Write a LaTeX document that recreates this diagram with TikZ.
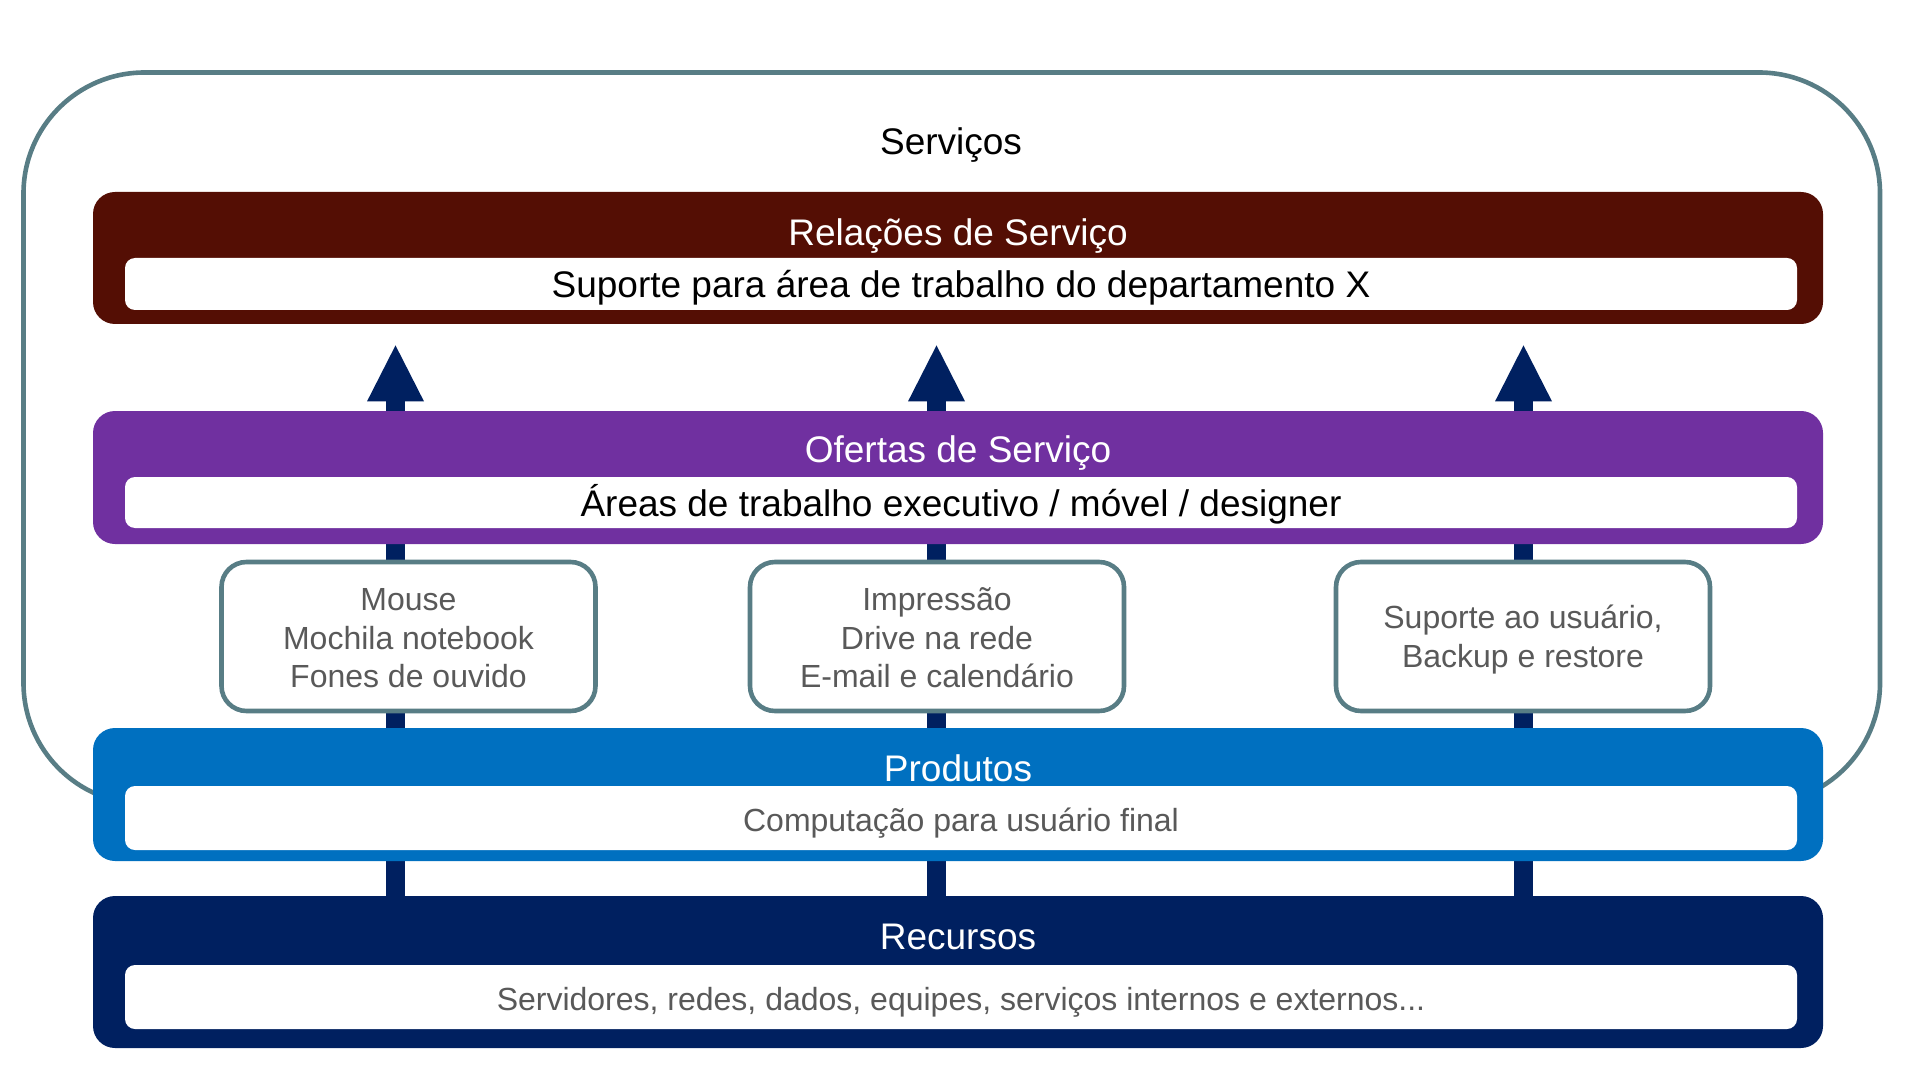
\documentclass[tikz,border=0pt]{standalone}
\usepackage{fontspec}
\setmainfont{Liberation Sans}
\usetikzlibrary{arrows.meta,backgrounds}
\definecolor{relcor}{RGB}{84,14,4}
\definecolor{ofecor}{RGB}{112,48,160}
\definecolor{procor}{RGB}{0,112,192}
\definecolor{reccor}{RGB}{0,32,96}
\definecolor{bordacor}{RGB}{88,125,133}
\definecolor{cinza}{RGB}{89,89,89}
\newcommand\fgrande{\fontsize{18.5}{22}\selectfont}
\newcommand\fpequena{\fontsize{16}{19.25}\selectfont}
\newcommand\alto[1]{\rule{0pt}{#1}}
\begin{document}
\begin{tikzpicture}[x=0.5pt,y=-0.5pt,
		faixa/.style={rounded corners=11pt,minimum width=865pt,inner sep=0pt},
		branco/.style={fill=white,rounded corners=5pt,minimum width=836pt,inner sep=0pt,text height=16.5pt,text depth=3pt},
		titulo/.style={anchor=base,text=white,font=\fgrande},
		item/.style={draw=bordacor,line width=2.3pt,fill=white,rounded corners=12.5pt,minimum width=187pt,minimum height=74.5pt,inner sep=0pt,align=center,text=cinza,font=\fpequena},
		seta/.style={draw=reccor,line width=9.5pt,-{Triangle[width=28.5pt,length=28pt,line width=0pt]},shorten >=10.5pt}]
	\useasboundingbox (0,0) rectangle (1920,1080);
	% moldura dos servicos
	\node[draw=bordacor,line width=2.3pt,rounded corners=60.5pt,minimum width=928.25pt,minimum height=365.75pt] (servicos) at (951.75,438.25) {};
	\node[anchor=base,font=\fgrande] (servicos-t) at (951,155) {Serviços};
	% faixas
	\node[faixa,fill=relcor,minimum height=66pt] (relacoes) at (958,258) {};
	\node[faixa,fill=ofecor,minimum height=66.5pt] (ofertas) at (958,477.5) {};
	\node[faixa,fill=procor,minimum height=66.5pt] (produtos) at (958,794.5) {};
	\node[faixa,fill=reccor,minimum height=76pt] (recursos) at (958,972) {};
	\node[titulo] (relacoes-t) at (958,246) {Relações de Serviço};
	\node[titulo] (ofertas-t) at (958,462) {Ofertas de Serviço};
	\node[titulo] (produtos-t) at (958,781) {Produtos};
	\node[titulo] (recursos-t) at (958,949) {Recursos};
	\node[branco,minimum height=26pt,font=\fgrande] (relacoes-i) at (961,284) {Suporte para área de trabalho do departamento X};
	\node[branco,minimum height=25.5pt,font=\fgrande] (ofertas-i) at (961,502.5) {Áreas de trabalho executivo / móvel / designer};
	\node[branco,minimum height=32pt,font=\fpequena,text=cinza] (produtos-i) at (961,818) {Computação para usuário final};
	\node[branco,minimum height=32pt,font=\fpequena,text=cinza] (recursos-i) at (961,997) {Servidores, redes, dados, equipes, serviços internos e externos...};
	% setas
	\coordinate (s1) at (395.5,0);
	\coordinate (s2) at (936.5,0);
	\coordinate (s3) at (1523.5,0);
	\begin{scope}[on background layer]
		\draw[seta] (recursos.north -| s1) -- (relacoes.south -| s1);
		\draw[seta] (recursos.north -| s2) -- (relacoes.south -| s2);
		\draw[seta] (recursos.north -| s3) -- (relacoes.south -| s3);
	\end{scope}
	% itens
	\node[item] (item1) at (408.5,636.5) {\alto{13pt}Mouse\\Mochila notebook\\Fones de ouvido};
	\node[item] (item2) at (937,636.5) {\alto{13pt}Impressão\\Drive na rede\\E-mail e calendário};
	\node[item] (item3) at (1523,636.5) {\alto{15pt}Suporte ao usuário,\\Backup e restore};
\end{tikzpicture}
\end{document}
